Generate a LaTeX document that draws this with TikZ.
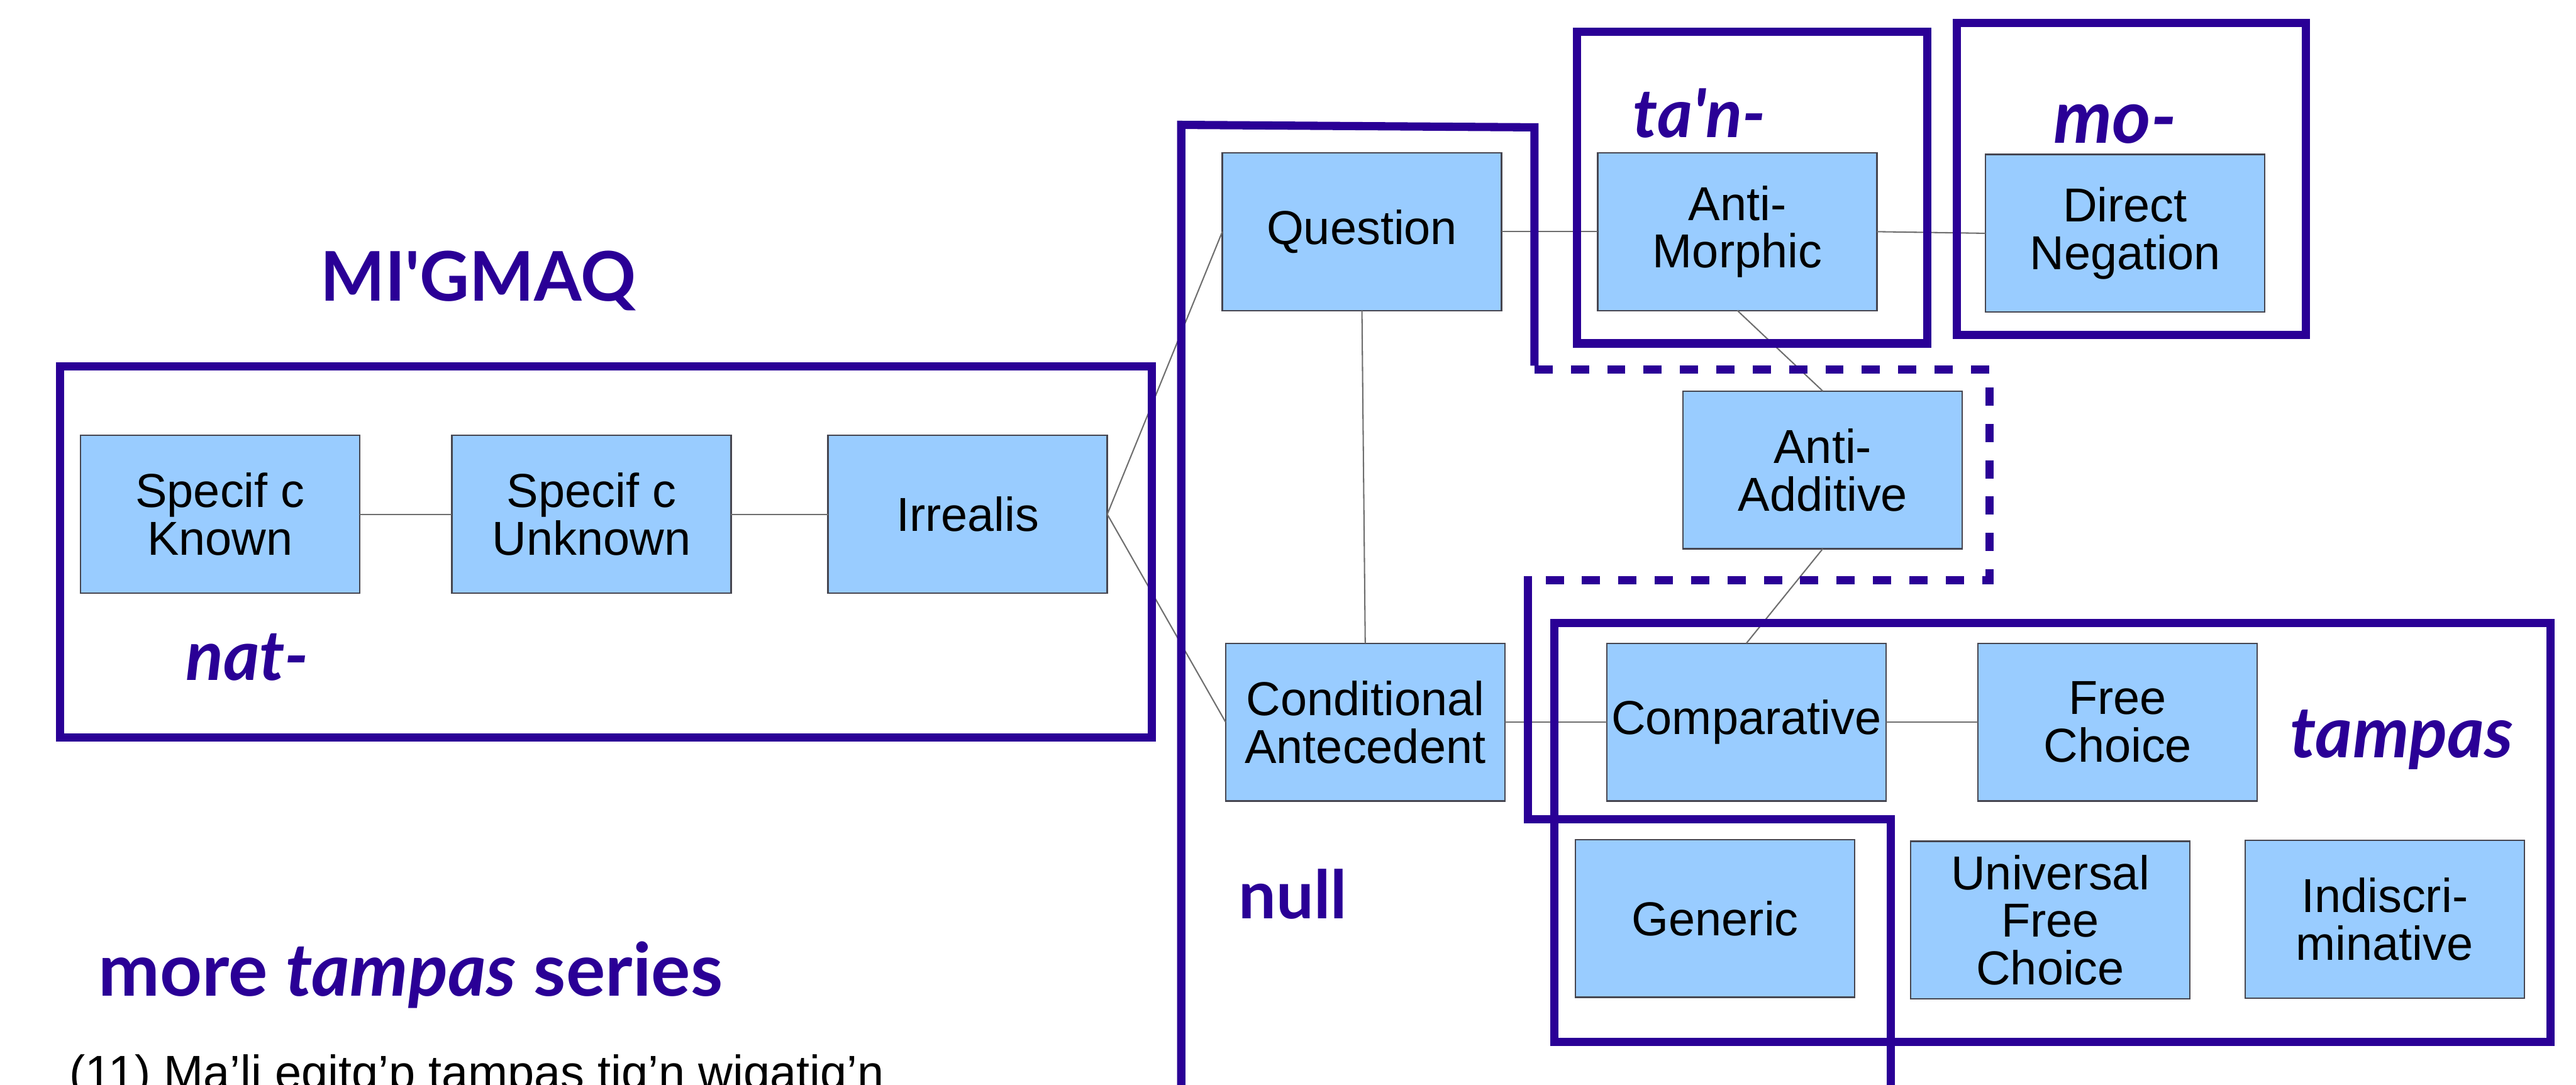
\documentclass[tikz,border=0pt]{standalone}
\usepackage{fontspec}
\setmainfont{Liberation Sans}
\newfontfamily\decofont{Lato}
\usepackage{graphicx}
\definecolor{ink}{RGB}{42,0,150}
\definecolor{boxfill}{RGB}{153,204,255}
\definecolor{boxline}{RGB}{70,70,80}
\definecolor{conn}{RGB}{110,110,110}
\tikzset{
  catbox/.style={rectangle, fill=boxfill, draw=boxline, line width=0.5pt,
    inner sep=0pt, outer sep=0pt, minimum width=3.4cm, minimum height=1.92cm,
    align=center, font=\fontsize{16.5}{16.5}\selectfont},
  conline/.style={draw=conn, line width=0.45pt},
  outl/.style={draw=ink, line width=2.85pt, line join=miter, line cap=butt},
  dotl/.style={draw=ink, line width=2.85pt, dash pattern=on 6.3pt off 6.3pt, line cap=butt},
  deco/.style={text=ink, inner sep=0pt, outer sep=0pt, anchor=base},
}
\begin{document}
\begin{tikzpicture}[x=0.02cm, y=-0.02cm]
\clip (0,0) rectangle (1568,660.2);
\fill[white] (0,0) rectangle (1568,660.2);

% boxes
\node[catbox] (SK) at (134,313) {Specif c\\Known};
\node[catbox] (SU) at (360,313) {Specif c\\Unknown};
\node[catbox] (IR) at (589,313) {Irrealis};
\node[catbox] (Q) at (829,141) {Question};
\node[catbox] (AM) at (1057.5,141) {Anti-\\Morphic};
\node[catbox] (DN) at (1293.5,142) {Direct\\Negation};
\node[catbox] (AA) at (1109.5,286) {Anti-\\Additive};
\node[catbox] (CA) at (831,439.5) {Conditional\\Antecedent};
\node[catbox] (CMP) at (1063,439.5) {Comparative};
\node[catbox] (FC) at (1289,439.5) {Free\\Choice};
\node[catbox] (GEN) at (1044,559) {Generic};
\node[catbox] (UFC) at (1248,560) {Universal\\Free\\Choice};
\node[catbox] (IND) at (1451.5,559.5) {Indiscri-\\minative};

% connectors (behind boxes)
\begin{scope}[on background layer/.style={}]
\end{scope}
\path[conline] (SK.east) -- (SU.west);
\path[conline] (SU.east) -- (IR.west);
\path[conline] (IR.east) -- (Q.west);
\path[conline] (IR.east) -- (CA.west);
\path[conline] (Q.south) -- (CA.north);
\path[conline] (Q.east) -- (AM.west);
\path[conline] (AM.east) -- (DN.west);
\path[conline] (AM.south) -- (AA.north);
\path[conline] (AA.south) -- (CMP.north);
\path[conline] (CA.east) -- (CMP.west);
\path[conline] (CMP.east) -- (FC.west);

% group outlines
\draw[outl] (36.4,223) rectangle (701,448.7);
\draw[outl] (960,19.5) rectangle (1173,209);
\draw[outl] (1191,14) rectangle (1403.5,203.7);
\draw[outl] (946,379) rectangle (1552.5,634);
\coordinate (n1) at (719,700);
\coordinate (n2) at (719,76);
\coordinate (n3) at (934,77.5);
\coordinate (n4) at (934,225);
\coordinate (n5) at (1211,225);
\coordinate (n6) at (1211,353);
\coordinate (n7) at (930,353);
\coordinate (n8) at (930,498.7);
\coordinate (n9) at (1151,498.7);
\coordinate (n10) at (1151,700);
\draw[outl] (n1) -- (n2) -- (n3) -- ([yshift=1.4pt]n4);
\draw[dotl] (n4) -- (n5) -- (n6) -- (n7);
\draw[outl] ([yshift=1.4pt]n7) -- (n8) -- (n9) -- (n10);

% labels
\node[deco] (title) at (291,183) {\resizebox{3.84cm}{!}{\decofont\bfseries MI'GMAQ}};
\node[deco] (nat) at (150.5,414) {\resizebox{1.5cm}{!}{\decofont\bfseries\itshape nat-}};
\node[deco] (tan) at (1034.5,83.5) {\resizebox{1.62cm}{!}{\decofont\bfseries\itshape ta'n-}};
\node[deco] (mo) at (1287.5,87) {\resizebox{1.5cm}{!}{\decofont\bfseries\itshape mo-}};
\node[deco] (tampas) at (1462,461) {\resizebox{2.72cm}{!}{\decofont\bfseries\itshape tampas}};
\node[deco] (null) at (787,559) {\resizebox{1.32cm}{!}{\decofont\bfseries null}};
\node[deco] (more) at (250,606) {\resizebox{7.6cm}{!}{\decofont\bfseries more \itshape tampas\upshape{} series}};
\node[inner sep=0pt, anchor=base west, font=\fontsize{16.5}{16.5}\selectfont] (ex) at (42,663) {(11) Ma’li egitg’p tampas tig’n wigatig’n};
\end{tikzpicture}
\end{document}
